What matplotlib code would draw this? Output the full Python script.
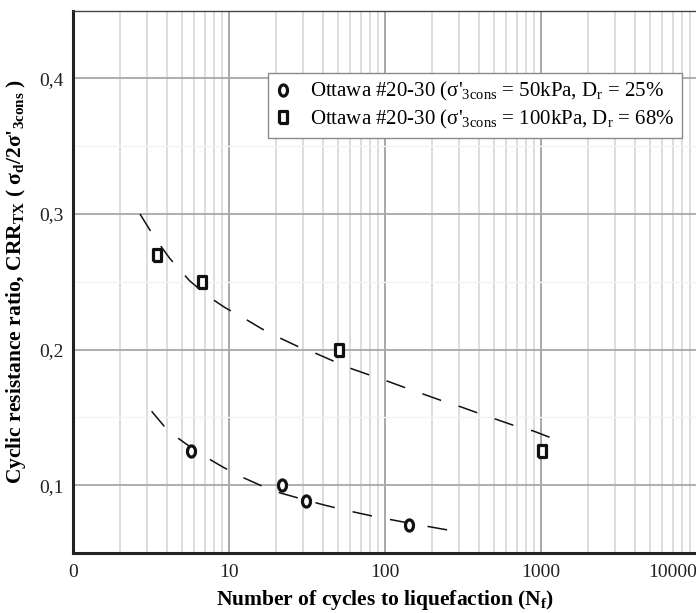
import numpy as np
import matplotlib
matplotlib.use('Agg')
import matplotlib.pyplot as plt
from matplotlib.ticker import LogLocator, NullFormatter

plt.rcParams['font.family'] = ['Liberation Serif', 'DejaVu Serif']
plt.rcParams['mathtext.fontset'] = 'custom'
plt.rcParams['mathtext.rm'] = 'Liberation Serif'
plt.rcParams['mathtext.it'] = 'Liberation Serif:italic'
plt.rcParams['mathtext.bf'] = 'Liberation Serif:bold'
plt.rcParams['mathtext.default'] = 'regular'

# test points
n_50 = [5.7, 22, 31, 142]
crr_50 = [0.125, 0.100, 0.088, 0.071]
n_100 = [3.45, 6.7, 51, 1020]
crr_100 = [0.270, 0.250, 0.200, 0.125]

# trend lines
fit_100_n = [2.69, 3.36, 4.19, 5.57, 7.2, 9.43, 12.35, 16.2, 21, 27.8, 35.6, 47.3,
             61.1, 80.9, 105, 139, 179, 236, 306, 402, 520, 692, 893, 1250]
fit_100_crr = [0.300, 0.282, 0.267, 0.251, 0.240, 0.231, 0.2235, 0.2154, 0.2088, 0.2022,
               0.1975, 0.1913, 0.1859, 0.181, 0.1765, 0.1714, 0.1669, 0.162, 0.1578,
               0.1529, 0.1485, 0.1435, 0.140, 0.1335]
fit_50_n = [3.19, 4.08, 5.3, 7.0, 9.1, 12.06, 16, 21, 30, 42, 60, 85, 120, 170, 230, 300]
fit_50_crr = [0.1546, 0.1399, 0.1305, 0.1212, 0.1135, 0.1061, 0.0998, 0.0945, 0.0895,
              0.0850, 0.0808, 0.0770, 0.0737, 0.0705, 0.0678, 0.0655]

xticks = [1, 10, 100, 1000, 10000]
xticklabels = ['0', '10', '100', '1000', '10000']
yticks = [0.1, 0.2, 0.3, 0.4]
yticklabels = ['0,1', '0,2', '0,3', '0,4']

labels = ["Ottawa #20-30 (σ'$_{3cons}$ = 50kPa, D$_r$ = 25%",
          "Ottawa #20-30 (σ'$_{3cons}$ = 100kPa, D$_r$ = 68%"]

# tall marker shapes
t = np.linspace(0, 2 * np.pi, 60)
oval = list(zip(0.72 * np.cos(t), np.sin(t)))
rect = [(-0.78, -1), (0.78, -1), (0.78, 1), (-0.78, 1), (-0.78, -1)]

fig = plt.figure(figsize=(6.96, 6.13), dpi=100)
ax = fig.add_axes([73 / 696, 60 / 613, 624 / 696, 542.3 / 613])

ax.set_xscale('log')
ax.set_xlim(1, 10000)
ax.set_ylim(0.05, 0.45)

ax.plot(fit_100_n, fit_100_crr, color='#111111', lw=1.1, dashes=(13, 12), zorder=3)
ax.plot(fit_50_n, fit_50_crr, color='#111111', lw=1.1, dashes=(13, 12), zorder=3)

ax.plot(n_50, crr_50, linestyle='none', marker=oval, ms=8, mew=2.3,
        mec='#111111', mfc='white', label=labels[0], zorder=4)
ax.plot(n_100, crr_100, linestyle='none', marker=rect, ms=8, mew=2.3,
        mec='#111111', mfc='white', label=labels[1], zorder=4)

ax.set_xticks(xticks)
ax.set_xticklabels(xticklabels)
ax.get_xticklabels()[-1].set_ha('right')
ax.xaxis.set_minor_locator(LogLocator(base=10, subs=range(2, 10)))
ax.xaxis.set_minor_formatter(NullFormatter())
ax.set_yticks(yticks)
ax.set_yticklabels(yticklabels)
ax.set_yticks([0.15, 0.25, 0.35], minor=True)

ax.grid(which='major', axis='x', color='#a0a0a0', lw=1.3)
ax.grid(which='minor', axis='x', color='#dadada', lw=1.3)
ax.grid(which='major', axis='y', color='#a8a8a8', lw=1.3)
ax.grid(which='minor', axis='y', color='#f3f3f3', lw=1.0)
ax.set_axisbelow(True)

ax.tick_params(which='both', length=0, labelsize=14, colors='#222222')
ax.tick_params(axis='x', pad=8)
ax.tick_params(axis='y', pad=7)

for s in ['left', 'bottom']:
    ax.spines[s].set_linewidth(2.2)
    ax.spines[s].set_color('#222222')
ax.spines['top'].set_linewidth(1.0)
ax.spines['top'].set_color('#444444')
ax.spines['right'].set_visible(False)

ax.set_xlabel('Number of cycles to liquefaction (N$_f$)', fontsize=15.5,
              fontweight='bold', labelpad=5)
ax.set_ylabel("Cyclic resistance ratio, CRR$_{TX}$ ( σ$_d$/2σ'$_{3cons}$ )",
              fontsize=15.5, fontweight='bold', labelpad=8)

leg = ax.legend(loc='upper right', bbox_to_anchor=(0.976, 0.885), fontsize=15,
                frameon=True, fancybox=False, framealpha=1, edgecolor='#8a8a8a',
                handlelength=0.8, handletextpad=0.9, borderpad=0.35,
                labelspacing=0.2, borderaxespad=0)
leg.get_frame().set_linewidth(1.0)

fig.savefig('out.png', dpi=100)
